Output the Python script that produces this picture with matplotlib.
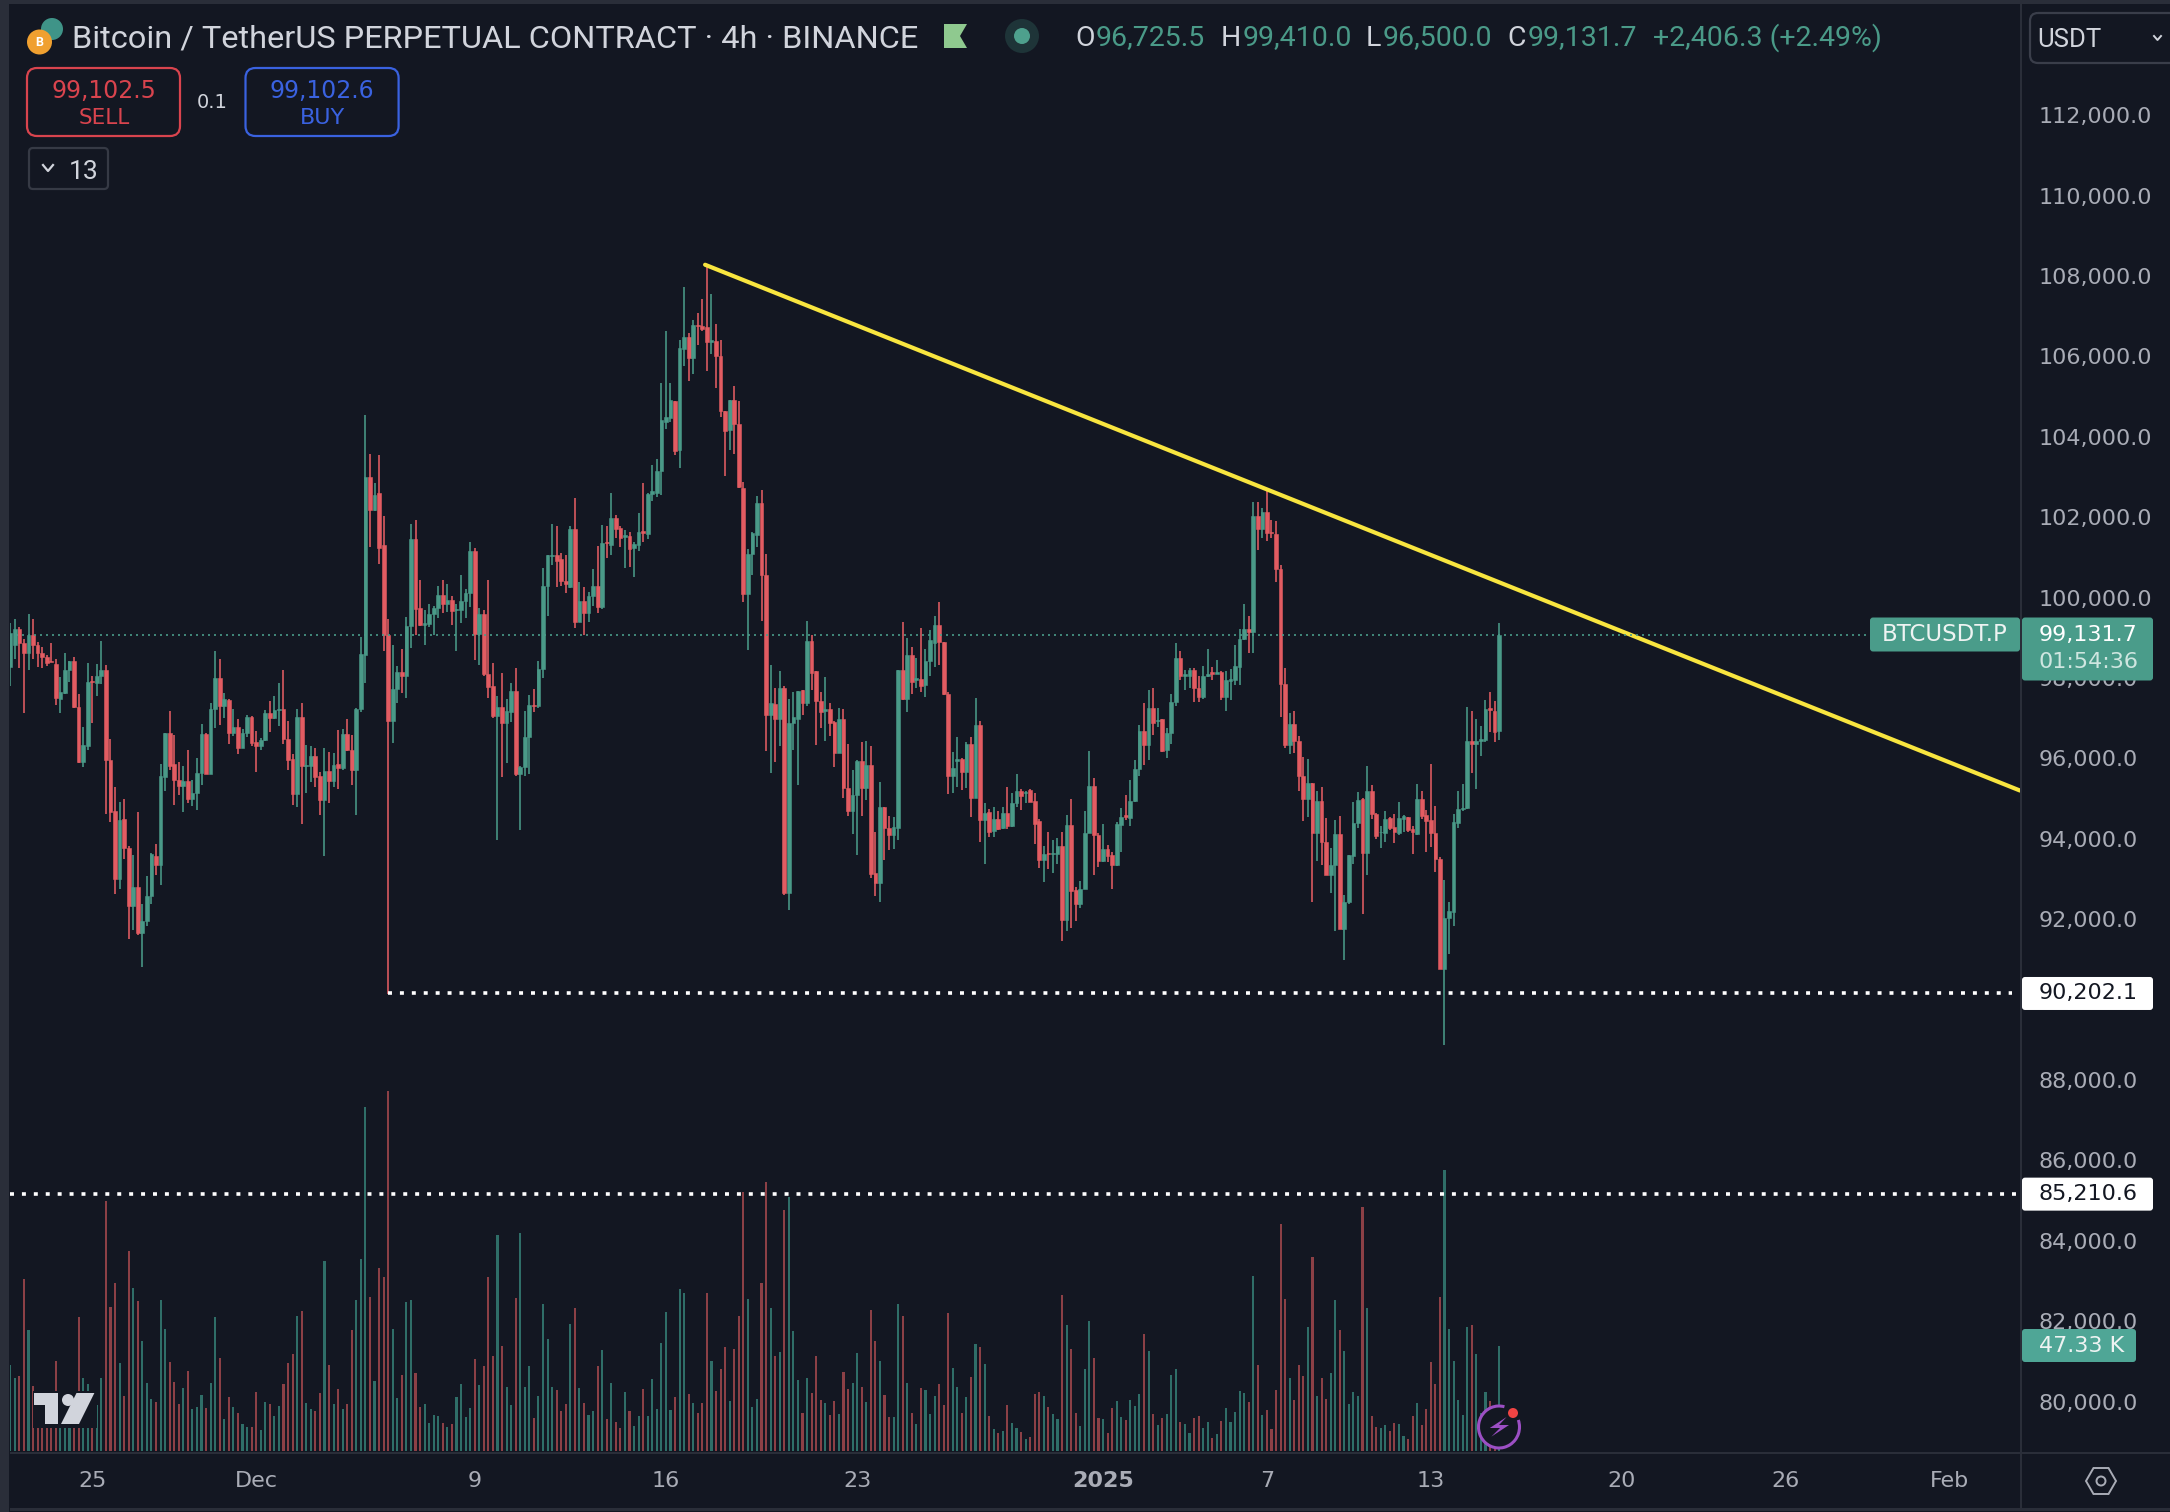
import numpy as np
import matplotlib
matplotlib.use("Agg")
import matplotlib.pyplot as plt
from matplotlib.patches import Rectangle, Circle, Polygon, FancyBboxPatch, Arc, RegularPolygon
from matplotlib.transforms import ScaledTranslation

plt.rcParams['font.family'] = ['Roboto', 'DejaVu Sans']

# 4h candles, prices in thousand USDT
opens = [98.33,98.87,99.27,98.92,98.66,99.11,98.88,98.68,98.58,98.47,
98.41,97.53,97.68,98.24,98.48,97.33,95.96,96.37,97.98,97.93,
98.10,98.26,96.02,94.73,93.04,94.53,93.83,92.39,92.86,91.71,
92.00,92.62,93.63,93.39,95.59,96.67,95.90,95.52,95.36,95.50,
95.03,95.19,95.69,96.65,95.66,97.28,98.06,97.35,97.50,96.67,
96.84,96.31,96.69,97.08,96.47,96.37,96.50,97.17,97.05,97.25,
97.27,96.54,96.04,95.16,97.08,95.86,95.86,96.12,95.61,95.01,
95.74,95.48,95.90,95.82,96.65,96.25,95.77,97.27,98.62,103.06,
102.24,102.64,101.35,99.13,96.98,97.78,98.19,98.09,99.34,101.51,
99.79,99.36,99.40,99.63,99.79,100.12,99.88,100.00,99.74,99.74,
99.96,100.17,101.20,99.15,99.63,98.16,97.85,97.10,97.33,96.92,
97.20,97.73,95.65,95.84,96.59,97.39,97.35,98.28,100.35,101.08,
101.10,101.01,100.46,100.32,101.76,99.44,99.97,99.67,100.08,100.33,
99.82,101.44,101.36,102.04,101.78,101.56,101.59,101.28,101.36,101.71,
101.63,102.63,102.65,103.21,104.43,104.51,104.95,103.71,106.24,106.54,
106.02,106.82,106.80,106.77,106.41,106.43,106.07,104.69,104.21,104.97,
104.38,102.77,100.15,101.13,101.60,102.41,100.62,97.13,97.41,97.04,
97.80,92.69,96.93,97.04,97.75,97.42,98.97,98.22,97.49,97.24,
97.27,96.95,96.18,97.04,95.32,94.73,95.13,95.98,95.32,95.88,
93.20,92.95,94.84,94.31,94.15,94.32,98.24,97.53,98.62,98.00,
98.02,97.87,98.47,98.93,99.38,98.95,97.65,95.62,95.98,96.04,
95.71,96.40,95.07,96.89,94.51,94.71,94.24,94.53,94.31,94.69,
94.38,94.95,95.23,95.19,95.26,94.98,94.50,93.53,93.70,93.67,
93.67,93.88,92.04,94.40,92.77,92.44,92.80,94.20,95.37,94.15,
93.50,93.80,93.65,93.39,94.40,94.63,94.56,95.00,95.79,96.72,
96.39,97.30,96.97,97.02,96.25,96.68,97.45,98.54,98.11,98.11,
98.24,97.81,97.58,98.09,98.19,98.16,98.19,97.58,97.97,98.01,
98.33,99.01,99.27,99.19,102.09,101.76,102.17,101.69,101.64,100.76,
97.90,96.38,96.91,96.49,95.62,95.05,95.43,94.19,95.00,93.98,
93.14,93.39,94.17,91.81,92.47,93.63,94.44,95.03,93.69,95.25,
94.66,94.21,94.19,94.57,94.34,94.19,94.55,94.59,94.30,94.17,
95.03,94.63,94.51,94.19,93.54,90.80,92.07,92.23,94.45,94.78,
94.82,96.49,96.42,96.49,96.51,97.31,97.23,96.73]

highs = [99.41,99.52,99.32,99.01,99.65,99.51,98.94,98.83,98.63,98.91,
98.51,98.08,98.66,98.48,98.58,97.66,96.83,98.43,98.11,98.41,
98.97,98.38,96.54,95.34,94.97,95.05,93.87,93.64,94.72,92.42,
93.12,93.70,93.93,95.90,96.67,97.24,96.62,95.97,95.86,96.27,
95.52,96.06,96.91,96.67,97.43,98.71,98.51,97.68,97.52,97.28,
97.03,96.79,97.12,97.10,96.74,96.55,97.25,97.47,97.60,97.93,
98.26,96.98,96.16,97.28,97.43,96.39,96.37,96.32,95.72,96.31,
96.22,96.19,96.75,96.78,97.03,96.62,97.31,99.07,104.59,103.63,
102.90,103.60,102.08,99.52,98.86,98.36,98.76,99.57,101.89,101.99,
100.50,99.74,99.88,99.84,100.33,100.50,100.40,100.08,99.90,100.60,
100.27,101.43,101.29,99.79,99.75,100.48,98.43,97.61,98.18,97.53,
97.93,98.30,95.86,97.23,97.63,97.78,98.48,100.79,101.11,101.87,
101.83,101.15,101.12,101.83,102.53,100.45,100.32,100.18,100.76,101.33,
101.86,101.83,102.64,102.11,101.83,101.73,101.69,101.43,102.16,102.89,
102.65,103.34,103.49,105.38,106.67,105.38,104.95,106.47,107.77,106.62,
106.95,107.12,107.49,108.32,107.60,106.85,106.47,104.69,104.97,105.32,
104.95,102.93,101.27,101.69,102.58,102.73,101.13,98.38,97.80,98.23,
97.84,97.53,97.71,97.73,97.75,99.47,99.13,98.22,97.69,98.08,
97.43,96.99,97.31,97.27,96.42,95.77,96.02,96.47,96.49,96.35,
94.22,95.47,94.84,94.62,94.60,98.24,99.44,99.04,98.82,98.54,
99.29,98.77,99.24,99.58,99.95,98.95,97.71,96.22,96.58,96.07,
96.47,96.58,97.55,96.99,94.95,94.78,94.84,94.73,94.84,95.33,
95.18,95.67,95.29,95.23,95.28,95.18,94.53,93.88,94.23,94.03,
94.06,94.23,94.64,95.03,92.85,92.99,94.73,96.24,95.57,94.20,
94.42,93.90,93.72,94.48,94.82,95.14,95.52,96.02,96.87,97.43,
97.76,97.80,97.31,97.02,96.80,97.64,98.92,98.71,98.26,98.29,
98.29,98.11,98.34,98.76,98.33,98.49,98.22,98.23,98.28,98.86,
99.27,99.88,99.60,102.43,102.43,102.28,102.74,101.98,101.96,100.87,
98.30,97.18,97.24,96.61,96.09,96.03,95.44,95.24,95.35,94.57,
93.81,94.51,94.62,92.64,93.65,94.97,95.22,95.06,95.85,95.38,
94.68,94.36,94.74,94.59,94.66,94.97,94.64,94.59,94.36,95.41,
95.25,94.76,95.92,94.87,93.60,93.03,92.47,94.66,95.24,95.41,
97.33,97.22,97.03,96.85,97.50,97.69,97.48,99.41]

lows = [97.86,98.53,98.29,97.18,98.26,98.51,98.32,98.31,98.34,98.44,
97.37,97.17,97.66,97.95,97.31,95.94,95.83,96.25,96.92,97.60,
97.91,94.66,94.46,92.67,92.79,93.55,91.56,91.79,91.66,90.85,
91.88,92.42,93.16,92.90,95.24,95.77,94.88,95.13,94.71,94.95,
94.86,94.76,95.40,95.65,95.66,96.81,96.89,97.05,96.40,96.60,
96.16,96.31,96.59,96.37,95.72,96.26,96.48,96.70,97.03,96.85,
96.40,95.77,94.88,94.85,94.41,95.18,95.46,95.33,94.65,93.62,
94.93,95.33,95.28,95.77,96.23,95.40,94.65,97.20,97.93,101.31,
102.20,100.89,98.72,90.20,96.44,97.43,97.68,97.56,98.80,99.11,
99.34,98.86,99.31,99.11,99.55,99.67,99.69,99.38,98.72,99.42,
99.55,99.82,98.49,98.37,98.11,97.54,97.06,94.03,95.59,95.94,
96.95,95.62,94.26,95.62,95.65,97.20,97.31,98.04,99.59,100.85,
100.31,100.35,100.17,100.30,99.29,99.44,99.13,99.44,99.84,99.67,
99.77,101.03,101.10,101.54,101.30,100.78,100.80,100.57,101.20,101.44,
101.51,102.45,102.54,102.60,104.24,104.43,103.60,103.27,105.80,105.43,
105.62,106.33,106.69,105.69,106.10,105.27,104.54,103.07,103.71,103.62,
102.77,99.95,98.74,100.62,101.32,99.47,96.24,95.69,95.95,96.35,
92.65,92.27,96.27,95.38,97.13,97.35,97.75,96.38,96.80,96.49,
96.60,95.84,96.18,95.07,94.62,94.18,93.65,94.62,95.01,93.07,
92.63,92.47,93.51,93.77,93.80,94.02,97.51,97.21,97.65,97.80,
97.71,97.57,98.10,98.32,98.38,97.63,95.16,95.20,95.35,95.27,
95.32,94.60,95.07,93.98,93.43,94.09,94.09,94.27,94.29,94.29,
94.35,94.84,94.76,94.93,94.96,93.93,93.33,92.97,93.30,93.19,
93.43,91.50,91.75,91.84,92.00,92.32,92.80,94.20,93.14,93.35,
93.47,93.47,92.79,93.37,93.73,94.51,94.36,94.96,95.61,95.89,
96.02,96.64,96.82,96.22,96.05,96.42,97.35,98.01,97.76,97.80,
97.45,97.46,97.53,98.07,98.00,98.14,97.51,97.22,97.51,97.88,
97.88,98.99,98.66,98.66,101.24,101.54,101.46,101.54,100.44,97.09,
96.30,96.15,96.19,95.24,94.49,94.59,92.49,93.50,93.41,93.14,
92.70,91.76,91.81,91.04,92.42,93.43,94.32,92.17,93.14,94.55,
94.04,93.81,93.98,94.28,93.94,94.14,94.23,94.23,93.66,94.14,
94.55,93.71,93.84,93.22,90.80,88.93,91.19,91.88,94.32,94.74,
94.80,95.69,95.29,96.10,96.47,96.70,96.47,96.50]

closes = [99.17,99.26,98.91,98.66,99.11,98.88,98.66,98.57,98.43,98.44,
97.54,97.71,98.26,98.48,97.32,95.96,96.39,97.96,97.95,98.10,
98.26,96.01,94.71,93.04,94.51,93.82,92.39,92.86,91.71,92.01,
92.62,93.66,93.39,95.61,96.67,95.87,95.51,95.36,95.49,95.03,
95.19,95.69,96.65,95.66,97.28,98.06,97.35,97.52,96.67,96.84,
96.31,96.69,97.08,96.44,96.37,96.50,97.17,97.05,97.25,97.28,
96.52,96.02,95.16,97.08,95.86,95.89,96.12,95.59,95.01,95.74,
95.48,95.89,95.82,96.65,96.25,95.77,97.27,98.64,103.06,102.24,
102.61,101.29,99.13,96.98,97.78,98.19,98.09,99.34,101.51,99.77,
99.36,99.42,99.65,99.79,100.12,99.88,100.00,99.72,99.77,99.97,
100.17,101.20,99.15,99.63,98.14,97.83,97.10,97.33,96.92,97.22,
97.73,95.65,95.84,96.59,97.38,97.35,98.28,100.35,101.10,101.12,
100.96,100.46,100.40,101.76,99.44,99.97,99.67,100.08,100.33,99.82,
101.41,101.40,102.03,101.76,101.53,101.61,101.26,101.39,101.68,101.66,
102.62,102.69,103.21,104.47,104.54,104.97,103.69,106.27,106.54,106.02,
106.82,106.80,106.73,106.41,106.45,106.07,104.69,104.19,104.97,104.38,
102.79,100.15,101.13,101.65,102.41,100.60,97.13,97.43,97.04,97.80,
92.69,96.93,97.07,97.73,97.42,98.97,98.18,97.49,97.21,97.29,
96.93,96.18,97.02,95.32,94.73,95.13,95.98,95.32,95.88,93.18,
92.95,94.84,94.31,94.15,94.34,98.24,97.53,98.62,97.95,98.04,
97.84,98.47,98.99,99.38,98.95,97.64,95.62,95.80,96.04,95.71,
96.40,95.07,96.89,94.51,94.69,94.22,94.53,94.29,94.69,94.38,
94.95,95.24,95.11,95.22,94.96,94.43,93.53,93.68,93.67,93.70,
93.88,92.04,94.40,92.74,92.44,92.80,94.20,95.36,94.15,93.50,
93.80,93.63,93.39,94.41,94.60,94.60,95.00,95.79,96.72,96.39,
97.30,96.93,97.00,96.23,96.68,97.46,98.54,98.09,98.16,98.24,
97.80,97.58,98.11,98.16,98.14,98.19,97.58,98.00,98.03,98.35,
99.01,99.27,99.19,102.09,101.76,102.17,101.66,101.66,100.76,97.90,
96.38,96.91,96.49,95.60,95.05,95.43,94.19,95.00,93.96,93.14,
93.39,94.17,91.81,92.47,93.65,94.44,95.01,93.69,95.25,94.66,
94.11,94.23,94.53,94.33,94.21,94.57,94.61,94.28,94.21,95.03,
94.61,94.49,94.19,93.54,90.80,92.07,92.26,94.47,94.80,94.81,
96.49,96.40,96.49,96.52,97.27,97.25,96.70,99.13]

# volume in thousands of BTC per bar
volumes = [38.7,33.0,33.8,77.4,54.6,29.3,17.7,14.0,11.0,10.2,
40.7,11.0,11.0,11.0,12.5,60.5,33.0,30.2,17.0,20.7,
33.0,112.5,65.0,75.8,39.5,24.8,90.2,73.7,67.5,49.5,
30.8,23.4,22.1,68.0,54.9,40.1,31.1,21.2,28.4,36.0,
18.8,19.8,25.2,19.2,30.8,60.3,41.9,14.4,24.3,19.8,
17.1,12.0,10.7,11.0,26.6,9.5,22.1,21.3,15.8,20.3,
30.3,39.6,43.7,60.8,63.2,21.6,18.9,18.2,26.1,85.7,
38.7,21.2,27.9,18.9,21.2,54.6,68.0,86.4,155.3,69.3,
31.5,82.4,78.3,162.5,54.9,23.9,34.2,67.1,68.0,35.3,
19.8,21.2,12.6,16.2,15.6,12.6,10.8,12.2,24.3,30.2,
15.3,19.4,41.4,29.7,38.3,78.3,42.8,97.2,47.3,28.8,
20.7,68.9,98.1,28.8,38.3,14.9,24.8,66.2,50.4,28.8,
27.5,18.2,21.2,57.2,64.4,28.4,21.6,16.2,18.0,38.3,
45.5,14.4,30.6,13.1,10.4,26.6,18.0,11.3,15.8,27.9,
15.8,32.4,18.9,48.6,62.6,18.5,24.3,72.9,71.1,25.7,
21.6,17.1,21.6,71.1,40.5,27.0,36.9,46.8,22.5,45.9,
60.8,117.0,68.4,19.8,23.4,75.8,121.5,64.4,42.8,44.6,
108.5,114.5,54.0,32.0,17.3,32.9,26.1,42.8,23.0,21.6,
16.2,22.5,16.7,35.6,27.9,30.6,44.1,28.8,22.1,63.5,
49.5,40.5,25.2,15.3,15.3,66.2,60.8,30.6,17.3,12.2,
28.4,27.5,16.7,24.8,30.2,20.7,62.1,37.4,28.8,17.1,
24.3,33.3,48.2,46.8,39.2,15.8,9.9,8.1,9.0,20.7,
12.6,10.4,8.6,5.4,6.3,25.7,26.6,24.8,19.8,16.7,
14.4,70.2,56.7,45.9,17.1,11.3,36.9,58.5,41.9,14.9,
14.4,8.1,19.4,22.5,15.3,14.0,23.0,20.3,25.7,52.7,
45.0,16.7,11.7,14.9,16.7,34.2,36.9,13.1,12.2,8.1,
14.9,15.8,10.4,13.1,5.9,7.7,13.5,19.4,13.1,17.6,
27.0,26.1,22.1,78.8,38.7,16.2,18.5,9.9,27.5,102.2,
68.4,32.9,23.0,38.7,33.8,55.8,87.3,24.8,32.9,23.4,
35.1,68.0,54.5,45.0,21.2,26.6,24.8,109.8,64.4,15.8,
10.8,10.4,11.7,9.0,12.6,12.2,6.8,5.4,15.8,21.6,
11.7,18.9,40.1,30.2,69.3,126.9,54.9,40.5,23.0,16.2,
55.8,56.7,43.7,17.0,26.6,22.5,4.2,47.33]

price_ticks = list(range(80000, 114000, 2000))
date_pos = [18, 54, 102, 144, 186, 240, 276, 312, 354, 390, 426]
date_labels = ["25", "Dec", "9", "16", "23", "2025", "7", "13", "20", "26", "Feb"]

trend_x = [152.6, 441.4]
trend_y = [108330, 95250]
last_price = 99131.7
level_a = 90202.1
level_b = 85210.6
level_a_start = 83

BG = "#131722"
STRIP = "#2a2e39"
GREEN = "#4a9a88"
RED = "#e25c62"
VOL_GREEN = "#2f6e68"
VOL_RED = "#8c4046"
TICK = "#a9acb6"
TXT = "#d1d4dc"
TEAL = "#4a9c8a"
WIDE = "DejaVu Sans"

W, H = 2170, 1512
PANE_L, PANE_R, PANE_T, PANE_B = 10, 2020, 4, 1453
BAR_STEP = 4.553
PX_PER_USD = 40.2 / 1000
Y_100K = 599.6


def price_y(p):
    return Y_100K + (100000 - p) * PX_PER_USD


opens = np.array(opens) * 1000
highs = np.array(highs) * 1000
lows = np.array(lows) * 1000
closes = np.array(closes) * 1000
volumes = np.array(volumes)
x = np.arange(len(opens))
up = closes >= opens
colors = np.where(up, GREEN, RED)
vol_colors = np.where(up, VOL_GREEN, VOL_RED)

fig = plt.figure(figsize=(W / 100, H / 100), dpi=100, facecolor=BG)
pos = [PANE_L / W, 1 - PANE_B / H, (PANE_R - PANE_L) / W, (PANE_B - PANE_T) / H]
xlim = ((PANE_L - 10.3) / BAR_STEP, (PANE_R - 10.3) / BAR_STEP)

# volume sits behind the candles on its own scale
ax_vol = fig.add_axes(pos, facecolor=BG)
ax_vol.bar(x, volumes, width=0.46, color=vol_colors, linewidth=0)
ax_vol.set_xlim(xlim)
ax_vol.set_ylim(-0.9, 652.4)
ax_vol.axis("off")

ax = fig.add_axes(pos)
ax.patch.set_alpha(0)
ax.vlines(x, lows, highs, colors=colors, linewidth=1.15)
ax.bar(x, np.abs(closes - opens), bottom=np.minimum(opens, closes), width=0.82,
       color=colors, edgecolor=colors, linewidth=0.4)

ax.plot(trend_x, trend_y, color="#f8e53f", linewidth=3.0, solid_capstyle="round")
ax.plot([xlim[0], (1870 - 10.3) / BAR_STEP], [last_price, last_price], color=TEAL,
        linewidth=1.2, linestyle=(0, (1.2, 2.4)))
ax.plot([level_a_start, (2012 - 10.3) / BAR_STEP], [level_a, level_a], color="white",
        linewidth=2.6, linestyle=(0, (1.1, 2.2)))
ax.plot([xlim[0], (2018 - 10.3) / BAR_STEP], [level_b, level_b], color="white",
        linewidth=2.6, linestyle=(0, (1.1, 2.2)))

ax.set_xlim(xlim)
ax.set_ylim(100000 - (PANE_B - Y_100K) / PX_PER_USD, 100000 + (Y_100K - PANE_T) / PX_PER_USD)
ax.yaxis.tick_right()
ax.set_yticks(price_ticks)
ax.set_yticklabels([f"{v:,.1f}" for v in price_ticks], color=TICK, fontsize=16, family=WIDE)
ax.tick_params(axis="y", length=0, pad=13.5)
ax.set_xticks(date_pos)
ax.set_xticklabels(date_labels, color=TICK, fontsize=16, family=WIDE)
ax.tick_params(axis="x", length=0, pad=13)
nudge_up = ScaledTranslation(0, 2 / 100, fig.dpi_scale_trans)
for lab in ax.get_yticklabels():
    lab.set_transform(lab.get_transform() + nudge_up)
for lab in ax.get_xticklabels():
    if lab.get_text() == "2025":
        lab.set_fontweight("bold")
for s in ax.spines.values():
    s.set_visible(False)

# everything around the pane is drawn in picture pixels
ui = fig.add_axes([0, 0, 1, 1])
ui.set_xlim(0, W)
ui.set_ylim(H, 0)
ui.axis("off")
ui.patch.set_alpha(0)


def box(x0, y0, x1, y1, fc="none", ec="none", lw=0, r=0):
    if r:
        p = FancyBboxPatch((x0, y0), x1 - x0, y1 - y0, boxstyle=f"round,pad=0,rounding_size={r}",
                           fc=fc, ec=ec, lw=lw)
    else:
        p = Rectangle((x0, y0), x1 - x0, y1 - y0, fc=fc, ec=ec, lw=lw)
    ui.add_patch(p)


def label(px, py, s, color=TXT, size=15, ha="left", **kw):
    ui.text(px, py, s, color=color, fontsize=size, ha=ha, va="center", **kw)


# frame
box(0, 0, W, PANE_T, fc=STRIP)
box(0, 0, PANE_L - 1, H, fc=STRIP)
box(PANE_L, PANE_B - 1, W, PANE_B + 1, fc=STRIP)
box(PANE_L, H - 4, W, H - 1, fc=STRIP)
box(PANE_R - 0.5, PANE_T, PANE_R + 1.5, H - 4, fc=STRIP)

# header
ui.add_patch(Circle((52, 29), 11, fc="#3f9488", ec="none"))
ui.add_patch(Circle((39.5, 42), 12.5, fc="#f0a030", ec="none"))
label(39.5, 42, "B", color="white", size=9, ha="center", fontweight="bold")
label(72, 39, "Bitcoin / TetherUS PERPETUAL CONTRACT · 4h · BINANCE", size=23.4)
ui.add_patch(Polygon([(944, 24), (967, 24), (960, 36), (967, 48), (944, 48)], fc="#8fc98f", ec="none"))
ui.add_patch(Circle((1022, 36), 17, fc="#1e3438", ec="none"))
ui.add_patch(Circle((1022, 36), 8, fc="#4ea08d", ec="none"))

ohlc_letters = [(1075, "O"), (1221, "H"), (1366, "L"), (1507, "C")]
ohlc_values = [(1095.5, "96,725.5"), (1242.5, "99,410.0"), (1383, "96,500.0"), (1527.6, "99,131.7")]
for px, s in ohlc_letters:
    label(px, 38, s, size=20.5)
for px, s in ohlc_values:
    label(px, 38, s, color=GREEN, size=20.5)
label(1653, 38, "+2,406.3 (+2.49%)", color=GREEN, size=20.5)

box(27, 68, 180, 136, ec="#d9444e", lw=1.6, r=10)
label(104, 91, "99,102.5", color="#d9444e", size=17, ha="center", family=WIDE)
label(104, 118, "SELL", color="#d9444e", size=15.5, ha="center", family=WIDE)
label(212, 103, "0.1", size=14, ha="center", family=WIDE)
box(245.5, 68, 398.6, 136, ec="#3a62e0", lw=1.6, r=10)
label(322, 91, "99,102.6", color="#3a62e0", size=17, ha="center", family=WIDE)
label(322, 118, "BUY", color="#3a62e0", size=16, ha="center", family=WIDE)

box(29, 148, 108, 189, ec="#363a45", lw=1.6, r=4)
ui.plot([43, 48, 53], [165, 171, 165], color=TXT, lw=1.6)
label(84, 172, "13", size=19, ha="center")

box(2030, 13, 2200, 63, ec="#3a3e4a", lw=1.6, r=8)
label(2037, 40, "USDT", size=18.5)
ui.plot([2154, 2157.5, 2161], [36, 40, 36], color=TXT, lw=1.4)

# price scale labels
y_last = price_y(last_price)
box(1870, y_last - 17, PANE_R, y_last + 17, fc=TEAL, r=3)
label(1945, y_last, "BTCUSDT.P", color="#eef3f2", size=16.5, ha="center", family=WIDE)
box(2022, y_last - 17, 2153, y_last + 46, fc=TEAL, r=3)
label(2039, y_last, "99,131.7", color="white", size=16, family=WIDE)
label(2039, y_last + 27, "01:54:36", color="#cfe6e0", size=16, family=WIDE)

for p, s in [(level_a, "90,202.1"), (level_b, "85,210.6")]:
    y = price_y(p)
    box(2022, y - 16.5, 2153, y + 16.5, fc="white", r=3)
    label(2039, y, s, color="#131722", size=16, family=WIDE)

box(2022, 1329, 2136, 1362, fc="#4fa696", r=3)
label(2039, 1346, "47.33 K", color="#eef3f2", size=16, family=WIDE)

# logo
box(33, 1391, 97, 1428, fc=BG)
ui.add_patch(Polygon([(33.7, 1393), (57.7, 1393), (57.7, 1424), (45, 1424), (45, 1405), (33.7, 1405)],
                     fc=TXT, ec="none"))
ui.add_patch(Circle((68, 1400), 6, fc=TXT, ec="none"))
ui.add_patch(Polygon([(94.4, 1393), (79, 1424), (61, 1424), (76.5, 1393)], fc=TXT, ec="none"))

# lightning badge
ui.add_patch(Circle((1499, 1427), 20.5, fc=BG, ec="none"))
ui.add_patch(Arc((1499, 1427), 41, 42, theta1=-20, theta2=285, color="#9c4fc4", lw=2.2))
ui.add_patch(Polygon([(1506.6, 1417), (1489.8, 1428), (1500, 1428), (1491.3, 1436.7), (1509, 1425), (1499, 1425)],
                     fc="#9c4fc4", ec="none"))
ui.add_patch(Circle((1513, 1413), 5, fc="#ef4444", ec="none"))

# settings icon
ui.add_patch(RegularPolygon((2101, 1481), 6, radius=15, orientation=np.pi / 2, fc="none", ec=TICK, lw=1.4))
ui.add_patch(Circle((2101, 1481), 4.5, fc="none", ec=TICK, lw=1.4))

fig.savefig("out.png", dpi=100, facecolor=BG)
